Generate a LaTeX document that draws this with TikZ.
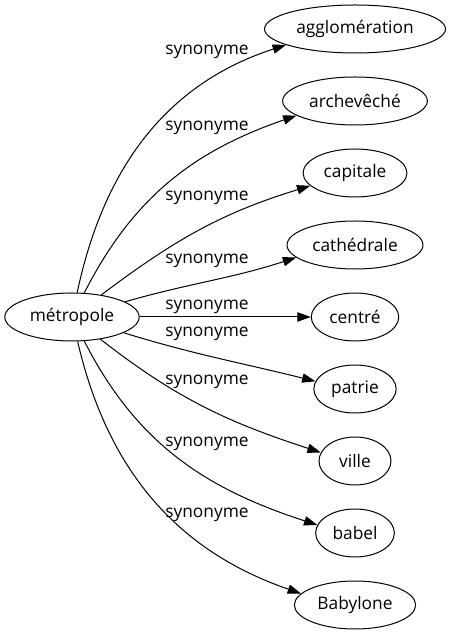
\documentclass[tikz,border=0pt]{standalone}
\usepackage{fontspec}
\setmainfont{Open Sans}
\usetikzlibrary{shapes.geometric,arrows.meta}
\tikzset{
  mot/.style={draw, ellipse, line width=0.75pt, inner xsep=4pt, inner ysep=2pt,
    minimum width=54pt, minimum height=36pt, font=\fontsize{13}{15}\selectfont},
  rel/.style={inner sep=0pt, font=\fontsize{13}{15}\selectfont},
  lien/.style={line width=0.75pt, -{Triangle[length=10pt,width=7pt]}},
}
\begin{document}
\begin{tikzpicture}[x=0.75pt,y=0.75pt]
\useasboundingbox (0,0) rectangle (451,635);
% source
\node[mot] (metropole) at (72,318) {métropole};
% synonymes
\node[mot] (agglomeration) at (355,606) {agglomération};
\node[mot] (archeveche) at (355,534) {archevêché};
\node[mot] (capitale) at (355,462) {capitale};
\node[mot] (cathedrale) at (355,390) {cathédrale};
\node[mot] (centre) at (355,318) {centré};
\node[mot] (patrie) at (355,246) {patrie};
\node[mot] (ville) at (355,174) {ville};
\node[mot] (babel) at (355,102) {babel};
\node[mot] (babylone) at (355,30) {Babylone};
% liens
\draw[lien] (metropole.78) to[out=78,in=198] (agglomeration.193);
\draw[lien] (metropole.63) to[out=63,in=199] (archeveche.194);
\draw[lien] (metropole.37) to[out=37,in=197] (capitale.196);
\draw[lien] (metropole.16) to[out=16,in=198] (cathedrale.192);
\draw[lien] (metropole) -- (centre);
\draw[lien] (metropole.-17) to[out=-17,in=166] (patrie.169);
\draw[lien] (metropole.-38) to[out=-38,in=162] (ville.166);
\draw[lien] (metropole.-63) to[out=-63,in=162] (babel.168);
\draw[lien] (metropole.-77) to[out=-77,in=161] (babylone.168);
% Text Node
\node[rel] (s1) at (207,583) {synonyme};
\node[rel] (s2) at (207,507) {synonyme};
\node[rel] (s3) at (207,437) {synonyme};
\node[rel] (s4) at (207,374) {synonyme};
\node[rel] (s5) at (207,328) {synonyme};
\node[rel] (s6) at (207,301) {synonyme};
\node[rel] (s7) at (207,253) {synonyme};
\node[rel] (s8) at (207,191) {synonyme};
\node[rel] (s9) at (207,120) {synonyme};
\end{tikzpicture}
\end{document}
